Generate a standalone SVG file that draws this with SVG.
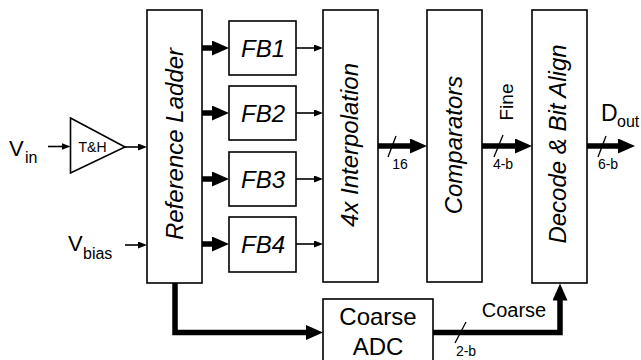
<svg xmlns="http://www.w3.org/2000/svg" width="641" height="360" viewBox="0 0 641 360">
<defs>
<style>
.box{fill:#fff;stroke:#000;stroke-width:1.6}
.thin{stroke:#000;stroke-width:1.6;fill:none}
.thick{stroke:#000;stroke-width:5.5;fill:none}
.sl{stroke:#000;stroke-width:1.3}
text{font-family:"Liberation Sans",Arial,sans-serif;fill:#000}
.big{font-size:24px;font-style:italic;text-anchor:middle}
.fb{font-size:24px;font-style:italic;text-anchor:middle}
.small{font-size:14px;text-anchor:middle}
</style>
<marker id="ah" markerUnits="userSpaceOnUse" markerWidth="18" markerHeight="16" refX="3" refY="7.5" orient="auto"><path d="M0,0 L17,7.5 L0,15 z" fill="#000"/></marker>
<marker id="at" markerUnits="userSpaceOnUse" markerWidth="10" markerHeight="8" refX="2" refY="3.5" orient="auto"><path d="M0,0 L9,3.5 L0,7 z" fill="#000"/></marker>
</defs>
<rect width="641" height="360" fill="#fff"/>
<g id="connectors">
<line class="thin" x1="48" y1="146.5" x2="63.5" y2="146.5" marker-end="url(#at)"/>
<line class="thin" x1="125" y1="147" x2="140" y2="147" marker-end="url(#at)"/>
<line class="thin" x1="125" y1="245" x2="140" y2="245" marker-end="url(#at)"/>
<line class="thick" x1="202" y1="48" x2="215" y2="48" marker-end="url(#ah)"/>
<line class="thick" x1="202" y1="113" x2="215" y2="113" marker-end="url(#ah)"/>
<line class="thick" x1="202" y1="179" x2="215" y2="179" marker-end="url(#ah)"/>
<line class="thick" x1="202" y1="244" x2="215" y2="244" marker-end="url(#ah)"/>
<line class="thin" x1="296" y1="48" x2="316" y2="48" marker-end="url(#at)"/>
<line class="thin" x1="296" y1="113" x2="316" y2="113" marker-end="url(#at)"/>
<line class="thin" x1="296" y1="179" x2="316" y2="179" marker-end="url(#at)"/>
<line class="thin" x1="296" y1="244" x2="316" y2="244" marker-end="url(#at)"/>
<line class="thick" x1="378" y1="146" x2="413" y2="146" marker-end="url(#ah)"/>
<line class="thick" x1="482" y1="146" x2="518" y2="146" marker-end="url(#ah)"/>
<line class="thick" x1="587" y1="146" x2="621" y2="146" marker-end="url(#ah)"/>
<path class="thick" d="M175,283 V332.5 H309" marker-end="url(#ah)"/>
<path class="thick" d="M433,332.5 H560 V297.5" marker-end="url(#ah)"/>
<line class="sl" x1="388" y1="157" x2="396" y2="136"/>
<line class="sl" x1="494" y1="157" x2="503" y2="135"/>
<line class="sl" x1="598" y1="157" x2="606" y2="136"/>
<line class="sl" x1="455" y1="343" x2="466" y2="322"/>
<text class="small" x="400" y="169">16</text>
<text class="small" x="503" y="169">4-b</text>
<text class="small" x="608" y="169">6-b</text>
<text class="small" x="466" y="356">2-b</text>
<text x="514" y="317" style="font-size:20px;text-anchor:middle">Coarse</text>
<text transform="translate(513,102) rotate(-90)" style="font-size:19px;text-anchor:middle">Fine</text>
<text x="601" y="121" style="font-size:23px">D<tspan x="617" y="127" style="font-size:16px">out</tspan></text>
</g>
<g id="vin">
<text x="9" y="156" style="font-size:22px">V<tspan x="25" y="163" style="font-size:16px">in</tspan></text>
</g>
<g id="vbias">
<text x="68" y="251" style="font-size:22px">V<tspan x="83" y="259" style="font-size:16px">bias</tspan></text>
</g>
<g id="th">
<polygon class="box" points="70.5,118 125,147 70.5,173"/>
<text x="92.5" y="151.5" style="font-size:14px;text-anchor:middle">T&amp;H</text>
</g>
<g id="ladder">
<rect class="box" x="147" y="10" width="55" height="273"/>
<text class="big" transform="translate(183,144) rotate(-90)">Reference Ladder</text>
</g>
<g id="fb1"><rect class="box" x="229" y="21" width="67" height="54"/><text class="fb" x="263" y="56.5">FB1</text></g>
<g id="fb2"><rect class="box" x="229" y="86" width="67" height="54"/><text class="fb" x="263" y="121.5">FB2</text></g>
<g id="fb3"><rect class="box" x="229" y="152" width="67" height="54"/><text class="fb" x="263" y="187.5">FB3</text></g>
<g id="fb4"><rect class="box" x="229" y="217" width="67" height="55"/><text class="fb" x="263" y="252.5">FB4</text></g>
<g id="interp">
<rect class="box" x="323" y="10" width="55" height="272"/>
<text class="big" transform="translate(358,145) rotate(-90)">4x Interpolation</text>
</g>
<g id="comp">
<rect class="box" x="427" y="10" width="55" height="272"/>
<text class="big" transform="translate(462,145) rotate(-90)">Comparators</text>
</g>
<g id="decode">
<rect class="box" x="532" y="10" width="55" height="273"/>
<text class="big" transform="translate(566,144) rotate(-90)">Decode &amp; Bit Align</text>
</g>
<g id="coarseadc">
<rect class="box" x="323" y="299" width="110" height="64"/>
<text x="378" y="325" style="font-size:24px;text-anchor:middle">Coarse</text>
<text x="378" y="355" style="font-size:24px;text-anchor:middle">ADC</text>
</g>
</svg>
